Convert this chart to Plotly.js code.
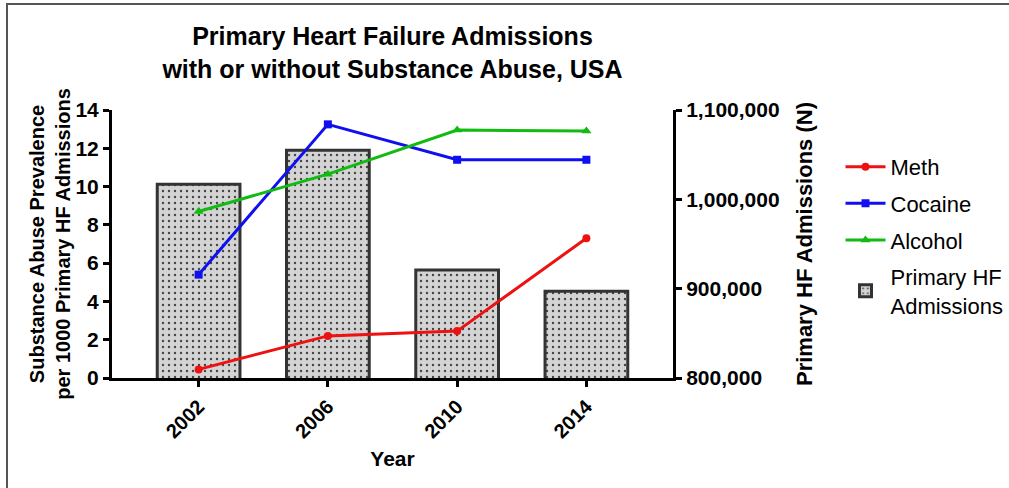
<!DOCTYPE html>
<html>
<head>
<meta charset="utf-8">
<script src="https://cdn.plot.ly/plotly-3.0.1.min.js"></script>
<style>
html,body{margin:0;padding:0;background:#fff;}
#wrap{position:relative;width:1009px;height:488px;}
#chart{width:1009px;height:488px;}
#bl{position:absolute;left:6px;top:3px;width:2px;height:485px;background:#555;}
#bt{position:absolute;left:6px;top:3px;width:1003px;height:2px;background:#555;}
</style>
</head>
<body>
<div id="wrap">
<div id="chart"></div>
<div id="bl"></div>
<div id="bt"></div>
</div>
<script>
var years = ['2002', '2006', '2010', '2014'];
var meth = [0.45, 2.2, 2.45, 7.3];
var cocaine = [5.4, 13.25, 11.4, 11.4];
var alcohol = [8.7, 10.65, 12.95, 12.9];
var hfAdmissions = [1017000, 1055000, 921000, 897000];

var FONT = 'Liberation Sans, Arial, sans-serif';

var traces = [
  {x: years, y: meth, name: 'Meth', legendgroup: 'a', type: 'scatter', mode: 'lines+markers', yaxis: 'y2',
   line: {color: '#ee1111', width: 3}, marker: {symbol: 'circle', size: 8, color: '#ee1111'}},
  {x: years, y: cocaine, name: 'Cocaine', legendgroup: 'b', type: 'scatter', mode: 'lines+markers', yaxis: 'y2',
   line: {color: '#1010ee', width: 3}, marker: {symbol: 'square', size: 8, color: '#1010ee'}},
  {x: years, y: alcohol, name: 'Alcohol', legendgroup: 'c', type: 'scatter', mode: 'lines+markers', yaxis: 'y2',
   line: {color: '#11bb11', width: 3}, marker: {symbol: 'triangle-up', size: 9, color: '#11bb11'}},
  {x: years, y: hfAdmissions, name: 'Primary HF<br>Admissions', legendgroup: 'd', type: 'bar', yaxis: 'y', width: 0.64,
   marker: {color: '#d4d4d4', line: {color: '#333', width: 3},
            pattern: {shape: '.', bgcolor: '#d4d4d4', fgcolor: '#444', size: 6, solidity: 0.12}}}
];

var layout = {
  width: 1009, height: 488,
  margin: {l: 112, r: 336, t: 110, b: 110, autoexpand: false},
  paper_bgcolor: '#fff', plot_bgcolor: '#fff',
  font: {family: FONT, color: '#000'},
  showlegend: true,
  title: {text: '<b>Primary Heart Failure Admissions<br>with or without Substance Abuse, USA</b>',
          font: {size: 25, family: FONT, color: '#000'}, x: 0.5, xref: 'paper', y: 0.907, yanchor: 'middle'},
  xaxis: {type: 'category', range: [-0.67, 3.67], showgrid: false, zeroline: false, automargin: false,
          showline: true, linecolor: '#000', linewidth: 3,
          ticks: 'outside', ticklen: 6, tickwidth: 3, tickcolor: '#000', tickangle: -45,
          tickfont: {size: 20, family: FONT, color: '#000', weight: 'bold'},
          title: {text: '<b>Year</b>', font: {size: 21, family: FONT, color: '#000'}, standoff: 10}},
  yaxis: {side: 'right', range: [800000, 1100000], dtick: 100000, tickformat: ',d', automargin: false,
          showgrid: false, zeroline: false, showline: true, linecolor: '#000', linewidth: 3,
          ticks: 'outside', ticklen: 6, tickwidth: 3, tickcolor: '#000',
          tickfont: {size: 21, family: FONT, color: '#000', weight: 'bold'},
          title: {text: '<b>Primary HF Admissions (N)</b>', font: {size: 22, family: FONT, color: '#000'}, standoff: 18}},
  yaxis2: {overlaying: 'y', side: 'left', range: [0, 14], dtick: 2, automargin: false,
          showgrid: false, zeroline: false, showline: true, linecolor: '#000', linewidth: 3,
          ticks: 'outside', ticklen: 6, tickwidth: 3, tickcolor: '#000',
          tickfont: {size: 21, family: FONT, color: '#000', weight: 'bold'},
          title: {text: '<b>Substance Abuse Prevalence<br>per 1000 Primary HF Admissions</b>', font: {size: 20, family: FONT, color: '#000'}, standoff: 0}},
  legend: {xref: 'container', x: 0.833, y: 0.866, xanchor: 'left', yanchor: 'top', traceorder: 'grouped',
           font: {size: 22, family: FONT, color: '#000'}, bgcolor: 'rgba(0,0,0,0)', itemwidth: 40,
           tracegroupgap: 5}
};

Plotly.newPlot('chart', traces, layout, {displayModeBar: false, staticPlot: true});
</script>
</body>
</html>
